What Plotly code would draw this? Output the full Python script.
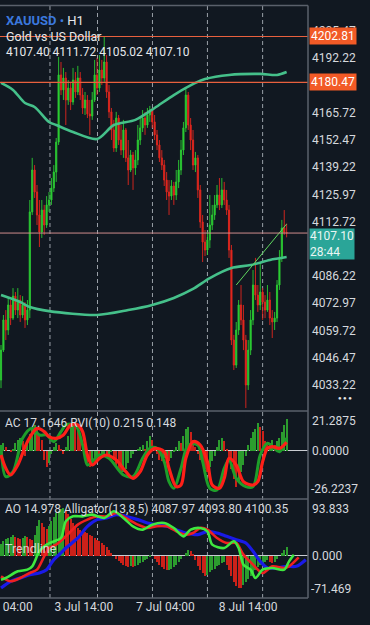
import plotly.graph_objects as go

# ---------------- data ----------------
first_open = 4035.5
closes = [4050.1, 4064.8, 4059.9, 4072.1, 4065.7, 4076.4, 4069.6, 4074.5, 4067.2, 4072.1,
          4064.8, 4069.6, 4117.4, 4137.8, 4127.1, 4115.9, 4107.6, 4118.3, 4111.0, 4120.8,
          4123.2, 4129.0, 4136.8, 4151.4, 4184.1, 4176.8, 4182.6, 4171.9, 4177.7, 4170.9,
          4181.6, 4175.8, 4182.6, 4174.3, 4168.0, 4171.9, 4165.1, 4164.1, 4171.9, 4184.1,
          4177.7, 4186.5, 4182.6, 4190.4, 4175.8, 4166.1, 4157.3, 4148.5, 4163.1, 4152.4,
          4147.5, 4157.3, 4143.7, 4137.8, 4145.1, 4138.8, 4142.7, 4152.4, 4158.3, 4163.1,
          4159.7, 4164.6, 4167.0, 4161.2, 4154.9, 4150.0, 4143.7, 4140.2, 4132.9, 4127.1,
          4125.1, 4130.0, 4125.6, 4132.0, 4137.8, 4147.5, 4158.3, 4174.3, 4159.7, 4152.4,
          4140.2, 4143.7, 4128.1, 4112.5, 4102.7, 4098.8, 4103.7, 4111.0, 4115.9, 4120.8,
          4125.6, 4120.8, 4128.1, 4123.2, 4118.3, 4098.8, 4055.0, 4042.8, 4059.9, 4072.1,
          4064.8, 4055.0, 4033.1, 4050.1, 4064.8, 4081.8, 4076.9, 4072.1, 4078.4, 4073.5,
          4069.6, 4074.5, 4065.7, 4063.8, 4065.7, 4081.8, 4095.0, 4109.6, 4107.40, 4107.10]
highs = [4052.6, 4067.2, 4069.6, 4075.5, 4074.5, 4080.3, 4078.4, 4080.3, 4076.9, 4076.4,
         4073.5, 4074.5, 4123.2, 4143.7, 4140.2, 4130.5, 4123.2, 4123.2, 4120.8, 4125.1,
         4127.1, 4133.9, 4140.2, 4153.4, 4192.8, 4190.4, 4187.5, 4185.5, 4181.6, 4180.7,
         4187.5, 4185.5, 4188.5, 4185.5, 4177.7, 4175.8, 4174.3, 4171.9, 4175.8, 4191.4,
         4192.4, 4193.8, 4191.4, 4202.6, 4193.8, 4179.2, 4168.0, 4162.2, 4166.1, 4164.6,
         4159.7, 4162.2, 4158.3, 4152.4, 4147.5, 4146.6, 4147.5, 4159.7, 4163.1, 4167.0,
         4166.1, 4168.0, 4169.0, 4168.0, 4164.6, 4157.3, 4152.4, 4147.5, 4142.7, 4136.8,
         4132.9, 4132.9, 4132.0, 4137.8, 4142.7, 4152.4, 4161.2, 4177.7, 4175.8, 4163.1,
         4157.3, 4146.6, 4145.1, 4130.5, 4115.9, 4108.6, 4107.6, 4125.6, 4120.8, 4125.6,
         4130.5, 4133.9, 4133.9, 4132.0, 4128.1, 4120.8, 4101.3, 4057.5, 4063.8, 4074.5,
         4081.8, 4072.1, 4057.5, 4055.0, 4069.6, 4089.1, 4095.0, 4081.8, 4093.0, 4080.3,
         4076.9, 4081.8, 4078.4, 4069.6, 4068.7, 4084.2, 4098.8, 4113.5, 4118.3, 4111.72]
lows = [4031.6, 4049.2, 4055.0, 4057.5, 4062.3, 4064.8, 4067.2, 4065.7, 4063.8, 4065.7,
        4060.9, 4062.3, 4065.7, 4115.9, 4124.2, 4111.0, 4100.3, 4104.7, 4106.2, 4109.6,
        4117.4, 4120.8, 4127.1, 4132.0, 4150.0, 4174.3, 4171.9, 4159.7, 4169.5, 4167.0,
        4169.5, 4172.9, 4174.3, 4171.9, 4165.1, 4164.6, 4163.1, 4154.9, 4162.2, 4170.9,
        4174.3, 4175.8, 4179.2, 4180.7, 4172.9, 4163.1, 4152.4, 4146.6, 4146.6, 4150.0,
        4145.1, 4143.7, 4141.7, 4130.5, 4136.8, 4128.1, 4135.4, 4140.2, 4150.0, 4156.3,
        4154.9, 4158.3, 4161.2, 4158.3, 4152.4, 4147.5, 4141.7, 4137.8, 4130.0, 4123.2,
        4115.9, 4123.2, 4120.8, 4123.2, 4129.0, 4135.4, 4145.1, 4156.3, 4157.3, 4147.5,
        4137.8, 4136.8, 4124.2, 4109.6, 4093.0, 4095.9, 4096.4, 4099.8, 4108.6, 4113.5,
        4119.3, 4118.3, 4119.3, 4120.8, 4115.9, 4095.0, 4052.6, 4040.4, 4041.4, 4057.5,
        4062.3, 4050.1, 4021.9, 4030.7, 4047.7, 4062.3, 4074.5, 4068.7, 4069.6, 4064.8,
        4065.7, 4068.7, 4062.3, 4056.0, 4059.9, 4063.8, 4079.4, 4093.0, 4106.2, 4105.02]

ma_fast_x = [0, 5, 10, 14, 20, 23, 30, 40, 47, 56, 64, 72, 81, 85, 95, 108, 115, 119]
ma_fast = [4180.2, 4176.8, 4170.4, 4168.5, 4161.2, 4159.7, 4156.3, 4152.9, 4159.7, 4162.2,
           4168.0, 4174.3, 4180.2, 4182.1, 4184.1, 4184.6, 4184.1, 4185.5]
ma_slow_x = [0, 8, 12, 20, 40, 53, 63, 72, 80, 87, 96, 104, 112, 119]
ma_slow = [4076.9, 4073.5, 4071.1, 4069.1, 4067.2, 4069.6, 4072.1, 4075.5, 4079.9, 4085.2,
           4090.1, 4091.5, 4094.0, 4095.4]

trend_x = [98, 119]
trend_y = [4081.8, 4111.5]

level_lines = [4202.81, 4180.47]
last_price = 4107.10
countdown = "28:44"
# visible right-axis labels (4178.97 and 4099.47 are hidden under the price boxes)
price_ticks = [4205.47, 4192.22, 4165.72, 4152.47, 4139.22, 4125.97, 4112.72,
               4086.22, 4072.97, 4059.72, 4046.47, 4033.22]

ac = [3, 4, 2, 0, -1, 1, 4, 6, 7, 5,
      -3, 5, 9, 13, 14, 12, 9, 6, -5, -9,
      -7, -2, 2, 4, 3, 1, -2, 2, 8, 13,
      16, 15, 12, 8, 3, -3, -7, -9, -8, -5,
      -3, -5, -4, -2, -4, -3, -1, -5, -8, -11,
      -13, -12, -10, -7, -4, -2, 0, 1, 2, 3,
      1, 5, 8, 6, 2, -2, -5, -6, -4, -3,
      -6, -4, -1, 2, 5, 4, 8, 12, 13, 10,
      6, 2, -2, -5, -8, -10, -12, -9, -6, -3,
      2, 6, 7, 5, 1, -4, -10, -16, -20, -17,
      -12, -8, -3, 3, 7, 10, 12, 15, 13, 11,
      5, 3, 4, 6, 3, 5, 7, 10, 14, 17.1646]
ac_range = [-26.2237, 21.2875]

rvi_x = [0, 2, 5, 9, 13, 16, 19, 22, 25, 27, 31, 34, 36, 38, 41, 45, 51, 55, 59, 62,
         65, 68, 70, 72, 75, 78, 82, 84, 87, 90, 93, 95, 98, 102, 105, 108, 111, 113, 116, 119]
rvi_main = [0.104, -0.39, -0.312, 0.208, 0.364, 0.26, 0.26, 0.156, 0.312, 0.416,
            0.416, 0.104, -0.208, -0.156, -0.052, -0.104, -0.364, -0.39, -0.104, 0.052,
            0.052, -0.156, -0.468, -0.572, -0.26, 0.104, 0.104, -0.156, -0.572, -0.598,
            -0.26, -0.13, -0.416, -0.546, -0.546, -0.052, 0.13, 0.078, 0.0, 0.215]
rvi_sig_x = [0, 2, 4, 7, 11, 15, 18, 20, 23, 26, 29, 32, 34, 36, 38, 41, 44, 48, 52, 55,
             58, 61, 64, 68, 70, 73, 75, 77, 80, 83, 86, 88, 91, 93, 95, 98, 101, 105, 107, 109,
             111, 113, 116, 119]
rvi_sig = [-0.052, -0.26, -0.364, -0.208, 0.156, 0.364, 0.312, 0.234, 0.208, 0.26,
           0.416, 0.416, 0.312, -0.052, -0.208, -0.104, -0.052, -0.13, -0.312, -0.416,
           -0.312, -0.052, 0.052, 0.0, -0.26, -0.546, -0.52, -0.104, 0.156, 0.104,
           -0.156, -0.52, -0.572, -0.416, -0.104, -0.208, -0.468, -0.52, -0.468, -0.156,
           0.052, 0.078, 0.052, 0.148]

ao = [20, 25, 28, 30, 32, 34, 32, 30, 28, 30,
      33, 31, 28, 26, 35, 50, 60, 55, 48, 45,
      50, 58, 65, 72, 76, 78, 80, 77, 70, 62,
      55, 50, 47, 44, 42, 40, 38, 35, 33, 30,
      27, 25, 22, 18, 14, 10, 5, 0, -5, -9,
      -12, -15, -17, -19, -18, -20, -17, -15, -12, -10,
      -8, -5, -2, 0, -5, -10, -15, -20, -23, -25,
      -24, -22, -20, -15, -10, -5, 0, 5, 10, 8,
      2, -8, -18, -25, -30, -35, -32, -28, -25, -22,
      -18, -15, -12, -10, -15, -25, -35, -45, -52, -55,
      -55, -50, -45, -40, -35, -30, -25, -20, -15, -12,
      -10, -8, -10, -12, -10, -5, 0, 5, 10, 14.978]
ao_range = [-71.469, 93.833]

jaw_x = [0, 4, 8, 12, 16, 19, 22, 25, 27, 32, 36, 40, 44, 48, 52, 57, 61, 65, 69, 73,
         77, 82, 86, 90, 94, 98, 102, 105, 108, 111, 115, 119, 123, 127]
jaw = [4017.9, 4034.4, 4042.6, 4050.8, 4055.0, 4063.2, 4088.0, 4104.5, 4116.8, 4141.6,
       4170.5, 4187.0, 4191.1, 4199.3, 4195.2, 4187.0, 4178.7, 4174.6, 4170.5, 4162.2,
       4154.0, 4149.8, 4158.1, 4154.0, 4145.7, 4137.5, 4129.2, 4108.6, 4083.8, 4067.3,
       4067.3, 4071.5, 4071.5, 4087.97]
teeth_x = [0, 4, 8, 12, 15, 18, 20, 23, 27, 32, 36, 40, 44, 48, 52, 57, 61, 65, 69, 73,
           77, 80, 83, 86, 90, 94, 98, 101, 105, 109, 113, 118, 120, 124]
teeth = [4046.7, 4034.4, 4042.6, 4055.0, 4063.2, 4096.2, 4116.8, 4125.1, 4145.7, 4174.6,
         4187.0, 4195.2, 4195.2, 4203.4, 4191.1, 4174.6, 4166.3, 4170.5, 4170.5, 4158.1,
         4149.8, 4154.0, 4166.3, 4162.2, 4141.6, 4129.2, 4129.2, 4100.35, 4075.6, 4055.0,
         4071.5, 4067.3, 4071.5, 4093.80]
lips_x = [0, 2, 7, 11, 13, 16, 19, 22, 25, 27, 30, 34, 38, 43, 47, 51, 55, 59, 63, 68,
          72, 76, 79, 83, 86, 88, 93, 97, 99, 101, 104, 106, 109, 113, 118, 120, 122]
lips = [4038.5, 4042.6, 4059.1, 4063.2, 4071.5, 4108.6, 4125.1, 4133.3, 4141.6, 4182.8,
        4195.2, 4195.2, 4199.3, 4191.1, 4207.6, 4191.1, 4170.5, 4162.2, 4174.6, 4178.7,
        4166.3, 4145.7, 4162.2, 4166.3, 4158.1, 4125.1, 4116.8, 4133.3, 4116.8, 4075.6,
        4063.2, 4042.6, 4063.2, 4067.3, 4063.2, 4083.8, 4100.35]

grid_bars = [20.4, 40.2, 63.1, 86, 109]
xtick_bars = [7, 34.5, 68.5, 103]
xtick_text = ["04:00", "3 Jul 14:00", "7 Jul 04:00", "8 Jul 14:00"]

# ---------------- styling ----------------
BG = "#111821"
TXT = "#d6d9de"
GREEN = "#2bcc33"
RED = "#e2271e"
HGREEN = "#2c9c2e"
HRED = "#cc2119"
FONT = "Roboto"
W, H = 370, 625
PLOT_R = 308  # right edge of plot area (px)


def px(x):
    return x / W


def py(y):
    return 1 - y / H


n = len(closes)
bars = list(range(n))
opens = [first_open] + closes[:-1]
highs = [max(h, o, c) for h, o, c in zip(highs, opens, closes)]
lows = [min(l, o, c) for l, o, c in zip(lows, opens, closes)]

ac_colors = [HGREEN if i == 0 or ac[i] > ac[i - 1] else HRED for i in range(len(ac))]
ao_colors = [HGREEN if i == 0 or ao[i] > ao[i - 1] else HRED for i in range(len(ao))]

fig = go.Figure()

# main pane
fig.add_trace(go.Scatter(x=ma_fast_x, y=ma_fast, mode="lines", xaxis="x", yaxis="y",
                         line=dict(color="#45c08a", width=2.6, shape="spline", smoothing=0.8),
                         hoverinfo="skip"))
fig.add_trace(go.Scatter(x=ma_slow_x, y=ma_slow, mode="lines", xaxis="x", yaxis="y",
                         line=dict(color="#45c08a", width=2.6, shape="spline", smoothing=0.8),
                         hoverinfo="skip"))
fig.add_trace(go.Candlestick(x=bars, open=opens, high=highs, low=lows, close=closes,
                             xaxis="x", yaxis="y", whiskerwidth=0,
                             increasing=dict(line=dict(color=GREEN, width=0.9), fillcolor=GREEN),
                             decreasing=dict(line=dict(color=RED, width=0.9), fillcolor=RED),
                             hoverinfo="skip"))
fig.add_trace(go.Scatter(x=trend_x, y=trend_y, mode="lines", xaxis="x", yaxis="y",
                         line=dict(color="#5fd85f", width=1), hoverinfo="skip"))

# AC pane
fig.add_trace(go.Bar(x=bars, y=ac, xaxis="x", yaxis="y2", marker=dict(color=ac_colors, line=dict(width=0)),
                     width=0.42, hoverinfo="skip"))
fig.add_trace(go.Scatter(x=rvi_x, y=rvi_main, mode="lines", xaxis="x", yaxis="y4",
                         line=dict(color="#1e9e2a", width=3, shape="spline", smoothing=0.9),
                         hoverinfo="skip"))
fig.add_trace(go.Scatter(x=rvi_sig_x, y=rvi_sig, mode="lines", xaxis="x", yaxis="y4",
                         line=dict(color="#ff2018", width=3.2, shape="spline", smoothing=0.9),
                         hoverinfo="skip"))

# AO pane
fig.add_trace(go.Bar(x=bars, y=ao, xaxis="x", yaxis="y3", marker=dict(color=ao_colors, line=dict(width=0)),
                     width=0.42, hoverinfo="skip"))
fig.add_trace(go.Scatter(x=jaw_x, y=jaw, mode="lines", xaxis="x", yaxis="y5",
                         line=dict(color="#1a1ae8", width=3.2, shape="spline", smoothing=0.8),
                         hoverinfo="skip"))
fig.add_trace(go.Scatter(x=teeth_x, y=teeth, mode="lines", xaxis="x", yaxis="y5",
                         line=dict(color="#f02020", width=2.6, shape="spline", smoothing=0.8),
                         hoverinfo="skip"))
fig.add_trace(go.Scatter(x=lips_x, y=lips, mode="lines", xaxis="x", yaxis="y5",
                         line=dict(color="#3fe83f", width=2.6, shape="spline", smoothing=0.8),
                         hoverinfo="skip"))

# ---------------- shapes ----------------
shapes = []
for gb in grid_bars:
    shapes.append(dict(type="line", xref="x", yref="paper", x0=gb, x1=gb, y0=py(598), y1=py(5.5),
                       line=dict(color="#9aa0a8", width=1, dash="4px,3px"), layer="below"))
for lv in level_lines:
    shapes.append(dict(type="line", xref="paper", yref="y", x0=0, x1=px(PLOT_R), y0=lv, y1=lv,
                       line=dict(color="#e8603e", width=1.2)))
shapes.append(dict(type="line", xref="paper", yref="y", x0=0, x1=px(PLOT_R), y0=last_price, y1=last_price,
                   line=dict(color="#cf8d8d", width=1)))
BORDER = "#5a606b"
for yy in [5.5, 411, 499, 598]:
    shapes.append(dict(type="line", xref="paper", yref="paper", x0=0, x1=px(PLOT_R), y0=py(yy), y1=py(yy),
                       line=dict(color=BORDER, width=1.5)))
shapes.append(dict(type="line", xref="paper", yref="paper", x0=px(PLOT_R), x1=px(PLOT_R), y0=py(598), y1=py(5.5),
                   line=dict(color=BORDER, width=1.5)))

# ---------------- annotations ----------------
ann = []
ann.append(dict(xref="paper", yref="paper", x=px(4), y=py(21), xanchor="left", yanchor="middle",
                text="<b><span style='color:#3b78de'>XAUUSD</span></b><span style='color:#3b78de'> •</span> H1",
                showarrow=False, font=dict(family=FONT, size=13, color="#e6e8eb")))
ann.append(dict(xref="paper", yref="paper", x=px(4), y=py(36.5), xanchor="left", yanchor="middle",
                text="Gold vs US Dollar", showarrow=False, font=dict(family=FONT, size=12.5, color="#e6e8eb")))
ann.append(dict(xref="paper", yref="paper", x=px(4), y=py(52), xanchor="left", yanchor="middle",
                text="%.2f %.2f %.2f %.2f" % (opens[-1], highs[-1], lows[-1], closes[-1]),
                showarrow=False, font=dict(family=FONT, size=12, color="#e6e8eb")))
for lv in level_lines:
    ann.append(dict(xref="paper", yref="y", x=px(PLOT_R + 1), y=lv, xanchor="left", yanchor="middle",
                    text="%.2f" % lv, showarrow=False, bgcolor="#f25a26", borderpad=1,
                    font=dict(family=FONT, size=12, color="#ffffff")))
ann.append(dict(xref="paper", yref="y", x=px(PLOT_R + 1), y=last_price, yshift=5, xanchor="left", yanchor="top",
                text="%.2f<br>%s" % (last_price, countdown), align="left", showarrow=False,
                bgcolor="#2aa598", borderpad=0, font=dict(family=FONT, size=12, color="#e9f5f3")))

# AC labels
ann.append(dict(xref="paper", yref="y2", x=px(PLOT_R + 2), y=ac_range[1], xanchor="left", yanchor="top",
                text="%.4f" % ac_range[1], showarrow=False, font=dict(family=FONT, size=12, color=TXT)))
ann.append(dict(xref="paper", yref="y2", x=px(PLOT_R + 2), y=0, xanchor="left", yanchor="middle",
                text="0.0000", showarrow=False, font=dict(family=FONT, size=12, color=TXT)))
ann.append(dict(xref="paper", yref="y2", x=px(PLOT_R + 1), y=ac_range[0], xanchor="left", yanchor="bottom",
                text="%.4f" % ac_range[0], showarrow=False, font=dict(family=FONT, size=12, color=TXT)))
ann.append(dict(xref="paper", yref="paper", x=px(3), y=py(423), xanchor="left", yanchor="middle",
                text="AC %.4f RVI(10) %.3f %.3f" % (ac[-1], rvi_main[-1], rvi_sig[-1]),
                showarrow=False, font=dict(family=FONT, size=12, color=TXT)))

# AO labels
ann.append(dict(xref="paper", yref="y3", x=px(PLOT_R + 2), y=ao_range[1], xanchor="left", yanchor="top",
                text="%.3f" % ao_range[1], showarrow=False, font=dict(family=FONT, size=12, color=TXT)))
ann.append(dict(xref="paper", yref="y3", x=px(PLOT_R + 2), y=0, xanchor="left", yanchor="middle",
                text="0.000", showarrow=False, font=dict(family=FONT, size=12, color=TXT)))
ann.append(dict(xref="paper", yref="y3", x=px(PLOT_R + 1), y=ao_range[0], xanchor="left", yanchor="bottom",
                text="%.3f" % ao_range[0], showarrow=False, font=dict(family=FONT, size=12, color=TXT)))
ann.append(dict(xref="paper", yref="paper", x=px(3), y=py(509), xanchor="left", yanchor="middle",
                text="AO %.3f Alligator(13,8,5) %.2f %.2f %.2f" % (ao[-1], jaw[-1], teeth[-1], lips[-1]),
                showarrow=False, font=dict(family=FONT, size=12, color=TXT)))
ann.append(dict(xref="paper", yref="paper", x=px(3), y=py(548), xanchor="left", yanchor="middle",
                text="Trendline", showarrow=False, font=dict(family=FONT, size=12.5, color="rgba(235,235,235,0.85)")))
ann.append(dict(xref="paper", yref="paper", x=px(345), y=py(397), xanchor="center", yanchor="middle",
                text="● ● ●", showarrow=False, font=dict(family=FONT, size=6, color="#e8e8e8")))

fig.update_layout(
    width=W, height=H,
    margin=dict(l=0, r=0, t=0, b=0),
    paper_bgcolor=BG, plot_bgcolor=BG,
    showlegend=False, bargap=0,
    shapes=shapes, annotations=ann,
    xaxis=dict(domain=[0, px(PLOT_R)], range=[-0.42, 127.9], anchor="y3",
               showgrid=False, zeroline=False, showline=False,
               tickmode="array", tickvals=xtick_bars, ticktext=xtick_text, ticks="",
               tickfont=dict(family=FONT, size=12, color=TXT),
               rangeslider=dict(visible=False), fixedrange=True),
    yaxis=dict(domain=[py(410.5), py(5.5)], range=[4020.7, 4217.9], anchor="x", side="right",
               showgrid=False, zeroline=False, showline=False,
               tickmode="array", tickvals=price_ticks, tickformat=".2f", ticks="",
               ticklabelstandoff=3,
               tickfont=dict(family=FONT, size=12, color=TXT)),
    yaxis2=dict(domain=[py(498), py(412)], range=ac_range, anchor="x", side="right",
                showgrid=False, showticklabels=False, ticks="", showline=False,
                zeroline=True, zerolinecolor="#c9ccd1", zerolinewidth=1),
    yaxis3=dict(domain=[py(598), py(500)], range=ao_range, anchor="x", side="right",
                showgrid=False, showticklabels=False, ticks="", showline=False,
                zeroline=True, zerolinecolor="#c9ccd1", zerolinewidth=1),
    yaxis4=dict(overlaying="y2", range=[-0.723, 0.619], visible=False),
    yaxis5=dict(overlaying="y3", range=[3993.1, 4235.6], visible=False),
)

fig.write_html("out.html")
